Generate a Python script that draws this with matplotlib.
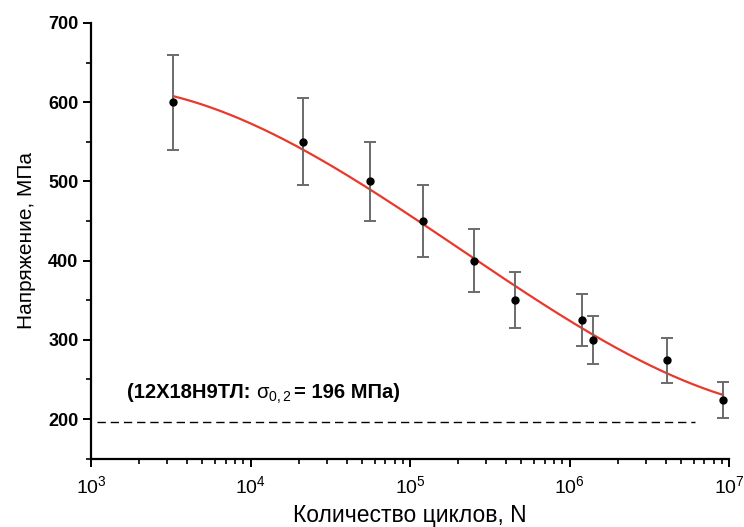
import numpy as np
import matplotlib
matplotlib.use("Agg")
import matplotlib.pyplot as plt
from matplotlib.ticker import FixedLocator, FuncFormatter, LogLocator, NullFormatter, MultipleLocator
from matplotlib import font_manager

# ---- data ----
cycles = [3.28e3, 2.13e4, 5.58e4, 1.21e5, 2.52e5, 4.53e5, 1.20e6, 1.41e6, 4.10e6, 9.2e6]
stress = [600, 550, 500, 450, 400, 350, 325, 300, 274, 224]
stress_err = [60, 55, 50, 45, 40, 35, 33, 30, 28, 23]

# fitted curve (log10 N, stress)
fit_logN = [3.520, 3.997, 4.329, 4.749, 4.937, 5.107, 5.401, 5.658, 6.078, 6.147, 6.611, 6.962]
fit_stress = [607, 574, 540, 492, 466, 439, 402, 369, 316, 306, 258, 230]

yield_stress = 196
yield_range = [1.09e3, 6.1e6]

x_ticks = [1e3, 1e4, 1e5, 1e6, 1e7]
y_ticks = [200, 300, 400, 500, 600, 700]

names = {f.name for f in font_manager.fontManager.ttflist}
narrow = "Liberation Sans Narrow" if "Liberation Sans Narrow" in names else "Liberation Sans"
base = "Liberation Sans"

plt.rcParams["mathtext.fontset"] = "custom"
plt.rcParams["mathtext.rm"] = narrow
plt.rcParams["mathtext.it"] = narrow

fig = plt.figure(figsize=(7.44, 5.27), dpi=100)
ax = fig.add_axes([91/744, 1-458.6/527, (729-91)/744, (458.6-23)/527])

# smooth fit through read curve points
coef = np.polyfit(fit_logN, fit_stress, 3)
xs = np.linspace(fit_logN[0], fit_logN[-1], 300)
ax.plot(10**xs, np.polyval(coef, xs), color="#e8392b", lw=1.6, zorder=3)

ax.errorbar(cycles, stress, yerr=stress_err, fmt="o", color="black", ms=5,
            ecolor="#6b6b6b", elinewidth=1.4, capsize=4, capthick=1.4, zorder=4)

ax.plot(yield_range, [yield_stress, yield_stress], color="black", lw=1.0,
        dashes=(6, 3.5), zorder=2)

ax.set_xscale("log")
ax.set_xlim(1e3, 1e7)
ax.set_ylim(150, 700)

ax.xaxis.set_major_locator(FixedLocator(x_ticks))
ax.xaxis.set_minor_locator(LogLocator(base=10, subs=np.arange(2, 10)))
ax.xaxis.set_minor_formatter(NullFormatter())
ax.xaxis.set_major_formatter(FuncFormatter(lambda v, p: r"$\mathregular{10^{%d}}$" % round(np.log10(v))))
ax.yaxis.set_major_locator(FixedLocator(y_ticks))
ax.yaxis.set_minor_locator(MultipleLocator(50))

for s in ["top", "right"]:
    ax.spines[s].set_visible(False)
for s in ["left", "bottom"]:
    ax.spines[s].set_linewidth(1.6)

ax.tick_params(axis="both", which="major", direction="out", length=6, width=1.4)
ax.tick_params(axis="both", which="minor", direction="out", length=3.5, width=1.2)
ax.tick_params(axis="y", labelsize=13, pad=3)
ax.tick_params(axis="x", labelsize=14, pad=6)
for lbl in ax.get_yticklabels():
    lbl.set_fontfamily(base)
    lbl.set_fontweight("bold")
for lbl in ax.get_xticklabels():
    lbl.set_fontfamily(narrow)

ax.set_ylabel("Напряжение, МПа", fontfamily=base, fontsize=15, labelpad=9)
ax.set_xlabel("Количество циклов, N", fontfamily=base, fontsize=16.5, labelpad=5)

# annotation: bold text with regular sigma
yb = 226
x0 = 1.68e3
ta = ax.text(x0, yb, "(12Х18Н9ТЛ: ", fontfamily=narrow, fontweight="bold",
             fontstyle="normal", fontsize=14.5, va="baseline", ha="left")
fig.canvas.draw()
inv = ax.transData.inverted()
bb = ta.get_window_extent()
xa = inv.transform((bb.x1, 0))[0]
ts = ax.text(xa, yb, r"$\mathregular{\sigma_{0,2}}$", fontfamily=narrow,
             fontsize=14.5, va="baseline", ha="left")
fig.canvas.draw()
bb2 = ts.get_window_extent()
xb = inv.transform((bb2.x1 + 2, 0))[0]
ax.text(xb, yb, "= 196 МПа)", fontfamily=narrow, fontweight="bold",
        fontstyle="normal", fontsize=14.5, va="baseline", ha="left")

fig.savefig("out.png", dpi=100)
